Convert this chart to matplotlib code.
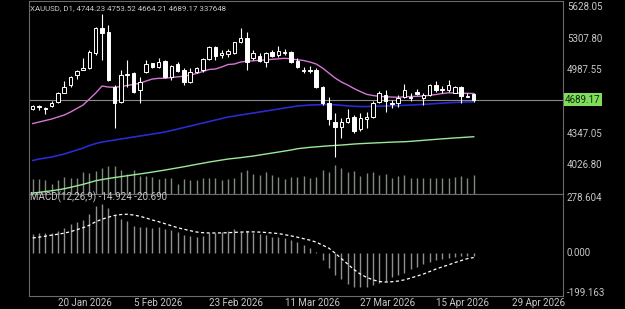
import matplotlib
matplotlib.use("Agg")
import matplotlib.pyplot as plt
import numpy as np

plt.rcParams['font.family'] = ['Roboto', 'DejaVu Sans']

# ---------------- data ----------------
opens = [4592.9, 4626.3, 4609.1, 4626.3, 4669.9, 4761.1, 4839.1, 4940.4, 4996.2, 5008.3,
         5160.4, 5413.7, 5376.2, 4815.8, 4669.9, 4940.4, 4963.8, 4788.4, 4973.9, 5059.0,
         5018.5, 5085.4, 4923.2, 5048.9, 4991.1, 4872.5, 4973.9, 4991.1, 5099.6, 5227.2,
         5143.1, 5153.3, 5166.4, 5271.8, 5312.4, 5109.7, 5136.0, 5075.2, 5176.6, 5143.1,
         5166.4, 5170.5, 5082.3, 4986.1, 4996.2, 4991.1, 4821.9, 4656.7, 4467.2, 4410.4,
         4467.2, 4511.8, 4390.2, 4491.5, 4511.8, 4669.9, 4737.8, 4659.7, 4653.7, 4714.5,
         4709.4, 4771.2, 4704.3, 4737.8, 4839.1, 4790.5, 4788.4, 4761.1, 4821.9, 4722.6,
         4744.23]
highs = [4641.5, 4641.5, 4621.2, 4677.0, 4771.2, 4879.6, 4930.3, 4991.1, 5109.7, 5193.8,
         5426.9, 5558.6, 5447.1, 4839.1, 4991.1, 5092.5, 4973.9, 4923.2, 5092.5, 5067.1,
         5109.7, 5092.5, 5041.8, 5075.2, 5008.3, 5008.3, 5024.6, 5109.7, 5234.3, 5234.3,
         5193.8, 5200.9, 5277.9, 5413.7, 5379.3, 5193.8, 5160.4, 5176.6, 5193.8, 5234.3,
         5200.9, 5186.7, 5109.7, 5024.6, 5031.7, 5008.3, 4829.0, 4720.5, 4555.4, 4504.7,
         4595.9, 4535.1, 4552.3, 4568.5, 4680.0, 4781.3, 4788.4, 4687.1, 4737.8, 4849.2,
         4761.1, 4795.5, 4755.0, 4849.2, 4882.7, 4829.0, 4889.8, 4829.0, 4829.0, 4755.0,
         4753.52]
lows = [4585.8, 4590.8, 4545.2, 4619.2, 4659.7, 4755.0, 4821.9, 4896.9, 4991.1, 4998.2,
        5143.1, 5092.5, 4879.6, 4403.3, 4659.7, 4821.9, 4761.1, 4653.7, 4957.7, 5011.4,
        5008.3, 4907.0, 4889.8, 4973.9, 4839.1, 4862.4, 4957.7, 4973.9, 5092.5, 5092.5,
        5109.7, 5125.9, 5153.3, 5261.7, 4991.1, 5092.5, 5075.2, 5018.5, 5125.9, 5125.9,
        5143.1, 5059.0, 5008.3, 4963.8, 4957.7, 4805.7, 4636.4, 4433.7, 4112.5, 4299.0,
        4451.0, 4355.7, 4376.0, 4400.3, 4501.6, 4659.7, 4568.5, 4603.0, 4613.1, 4704.3,
        4680.0, 4737.8, 4636.4, 4727.6, 4771.2, 4761.1, 4771.2, 4755.0, 4653.7, 4714.5,
        4664.21]
closes = [4626.3, 4613.1, 4595.9, 4659.7, 4761.1, 4821.9, 4923.2, 4981.0, 5008.3, 5176.6,
          5413.7, 5369.1, 4889.8, 4659.7, 4940.4, 4955.7, 4771.2, 4872.5, 5048.9, 5018.5,
          5075.2, 4923.2, 5031.7, 4981.0, 4872.5, 4973.9, 5008.3, 5099.6, 5227.2, 5133.0,
          5166.4, 5186.7, 5271.8, 5312.4, 5075.2, 5160.4, 5085.4, 5166.4, 5133.0, 5186.7,
          5176.6, 5075.2, 5018.5, 4996.2, 4986.1, 4815.8, 4653.7, 4491.5, 4410.4, 4467.2,
          4504.7, 4376.0, 4501.6, 4517.9, 4659.7, 4755.0, 4680.0, 4646.6, 4704.3, 4788.4,
          4719.5, 4747.9, 4737.8, 4839.1, 4788.4, 4800.6, 4839.1, 4821.9, 4727.6, 4732.7,
          4689.17]
volumes = [266600, 266600, 248800, 177700, 248800, 296800, 279000, 279000, 378500, 367900,
           396300, 456700, 497600, 497600, 426500, 355400, 426500, 307400, 307400, 296800,
           266600, 279000, 279000, 177700, 266600, 236400, 248800, 279000, 279000, 279000,
           248800, 266600, 279000, 378500, 414100, 355400, 337600, 378500, 337600, 296800,
           266600, 296800, 296800, 307400, 279000, 296800, 414100, 378500, 515400, 456700,
           378500, 396300, 319900, 367900, 378500, 337600, 355400, 279000, 307400, 337600,
           279000, 279000, 279000, 279000, 279000, 279000, 279000, 296800, 319900, 279000,
           337648]
ma_pink = [4449.0, 4464.2, 4479.4, 4494.6, 4514.8, 4535.1, 4565.5, 4601.0, 4636.4, 4697.2,
           4758.0, 4829.0, 4818.8, 4815.8, 4823.9, 4834.0, 4846.2, 4856.3, 4879.6, 4899.9,
           4907.0, 4907.0, 4915.1, 4922.2, 4928.3, 4940.4, 4955.7, 4975.9, 4996.2, 5001.3,
           5021.5, 5046.9, 5051.9, 5072.2, 5080.3, 5084.4, 5089.4, 5092.5, 5099.6, 5104.6,
           5109.7, 5104.6, 5094.5, 5087.4, 5072.2, 5051.9, 5011.4, 4960.7, 4910.0, 4869.5,
           4839.1, 4803.6, 4773.2, 4744.9, 4732.7, 4724.6, 4719.5, 4717.5, 4714.5, 4719.5,
           4722.6, 4724.6, 4727.6, 4734.7, 4742.8, 4753.0, 4760.1, 4758.0, 4756.0, 4755.0,
           4753.0]
ma_blue = [4074.0, 4089.2, 4099.3, 4109.5, 4124.7, 4139.9, 4160.1, 4180.4, 4200.7, 4226.0,
           4246.3, 4261.5, 4271.6, 4281.7, 4291.9, 4302.0, 4312.1, 4322.3, 4332.4, 4342.5,
           4352.7, 4362.8, 4378.0, 4393.2, 4408.4, 4423.6, 4438.8, 4454.0, 4469.2, 4484.4,
           4499.6, 4514.8, 4525.0, 4535.1, 4545.2, 4555.4, 4565.5, 4575.6, 4585.8, 4595.9,
           4606.0, 4616.2, 4626.3, 4631.4, 4636.4, 4638.5, 4640.5, 4641.5, 4638.5, 4633.4,
           4628.3, 4624.3, 4621.2, 4621.2, 4623.3, 4624.3, 4626.3, 4628.3, 4630.3, 4633.4,
           4636.4, 4639.5, 4643.5, 4646.6, 4651.6, 4655.7, 4659.7, 4662.8, 4665.8, 4667.8,
           4669.9]
ma_green = [3744.6, 3751.7, 3759.8, 3767.9, 3777.1, 3788.2, 3802.4, 3817.6, 3832.8, 3851.0,
            3869.3, 3881.4, 3891.6, 3901.7, 3910.8, 3920.0, 3929.1, 3938.2, 3947.3, 3957.5,
            3967.6, 3977.7, 3988.9, 4000.0, 4011.2, 4023.3, 4035.5, 4046.6, 4058.8, 4068.9,
            4079.1, 4089.2, 4096.3, 4103.4, 4111.5, 4119.6, 4129.7, 4139.9, 4150.0, 4160.1,
            4170.3, 4180.4, 4193.6, 4200.7, 4207.8, 4212.8, 4217.9, 4223.0, 4227.0, 4231.1,
            4236.1, 4241.2, 4245.3, 4248.3, 4251.3, 4254.4, 4257.4, 4260.5, 4262.5, 4264.5,
            4268.6, 4273.6, 4278.7, 4283.8, 4288.8, 4293.9, 4298.0, 4303.0, 4307.1, 4311.1,
            4315.2]
macd_main = [96.5, 100, 103, 103, 113, 125, 146.5, 158, 170, 196.5,
             236.5, 250, 230, 191.5, 175, 163, 136.5, 133, 133, 130,
             133, 120, 116.5, 108, 91.5, 86.5, 80, 86.5, 100, 100,
             108, 113, 120, 108, 113, 103, 95, 91.5, 83, 83,
             75, 66.5, 58, 41.5, 25, 6.5, -33.5, -75, -108.5, -130,
             -153.5, -167, -170, -170, -158.5, -147, -137, -120, -108.5, -97,
             -80, -70, -52, -42, -33, -29, -22, -16, -13, -13,
             -14.924]
macd_signal = [77.5, 81.5, 86.5, 91.5, 96.5, 101.5, 109, 119, 129, 141.5,
               159, 171.5, 181.5, 190.5, 195, 196.5, 192.5, 186.5, 177.5, 167.5,
               159, 149, 139, 129, 121.5, 114, 107.5, 104, 102.5, 102.5,
               103, 104, 105.5, 107, 108, 108, 107, 105, 102.5, 99.5,
               94, 88, 81.5, 74, 66.5, 56.5, 41.5, 26.5, 1.5, -26,
               -53.5, -81, -103.5, -120, -132.5, -141, -143.5, -142, -138.5, -132.5,
               -123.5, -113.5, -103.5, -91, -78.5, -67.5, -57.5, -46, -36, -26,
               -20.69]
date_labels = ["20 Jan 2026", "5 Feb 2026", "23 Feb 2026", "11 Mar 2026",
               "27 Mar 2026", "15 Apr 2026", "29 Apr 2026"]
date_bar_index = [4, 16, 28, 40, 52, 64, 76]
price_labels = [5628.05, 5307.80, 4987.55, 4347.05, 4026.80]
macd_labels = [278.604, 0.000, -199.163]
title = "XAUUSD, D1, 4744.23 4753.52 4664.21 4689.17 337648"
macd_title = "MACD(12,26,9) -14.924 -20.690"

# ---------------- figure ----------------
W, H = 625, 309
fig = plt.figure(figsize=(W / 100, H / 100), dpi=100, facecolor='black')

def rect(x0, y0, x1, y1):
    return [x0 / W, 1 - y1 / H, (x1 - x0) / W, (y1 - y0) / H]

main_rect = rect(28.5, 1.3, 563, 193.8)
macd_rect = rect(28.5, 193.8, 563, 296)

ax_v = fig.add_axes(main_rect)
ax = fig.add_axes(main_rect)
axm = fig.add_axes(macd_rect)

border = '#6a6a6a'
txt = '#c8c8c8'
fs = 7

n = len(closes)
x = np.arange(n)
xlim = (-0.667, 84.17)

# volume
ax_v.set_facecolor('black')
ax_v.vlines(x, 0, volumes, color='#7f8a7f', lw=1.0)
ax_v.set_xlim(*xlim)
ax_v.set_ylim(0, 3.416e6)
ax_v.axis('off')

# candles
ax.set_facecolor('none')
ax.vlines(x, lows, highs, color='white', lw=0.8, zorder=3)
o = np.array(opens); c = np.array(closes)
bottoms = np.minimum(o, c)
heights = np.maximum(np.abs(c - o), 4)
faces = ['black' if cc >= oo else 'white' for oo, cc in zip(opens, closes)]
ax.bar(x, heights, bottom=bottoms, width=0.55, color=faces, edgecolor='white',
       linewidth=0.7, zorder=4)

ax.plot(x, ma_pink, color='#d476d4', lw=1.0, zorder=2)
ax.plot(x, ma_blue, color='#2a2ad0', lw=1.2, zorder=2)
ax.plot(x, ma_green, color='#9be89b', lw=1.0, zorder=2)

last = closes[-1]
ax.axhline(last, color='#8a8a8a', lw=0.8, zorder=1)

ax.set_xlim(*xlim)
ax.set_ylim(3737, 5687.3)
ax.set_xticks([]); ax.set_yticks([])
for s in ['left', 'top', 'right', 'bottom']:
    ax.spines[s].set_color(border)
    ax.spines[s].set_linewidth(0.8)

ytr = ax.get_yaxis_transform()
for p in price_labels:
    ax.text(1.007, p, f"{p:.2f}", transform=ytr, ha='left', va='center',
            color=txt, fontsize=fs, clip_on=False)
ax.text(1.004, last, f"{last:.2f}", transform=ytr, ha='left', va='center',
        color='#0b2a0b', fontsize=fs, clip_on=False,
        bbox=dict(boxstyle='square,pad=0.15', facecolor='#80dc5a', edgecolor='none'))

fig.text(30 / W, 1 - 7.7 / H, title, color=txt, fontsize=5.7, ha='left', va='center')

# MACD
axm.set_facecolor('black')
axm.vlines(x, 0, macd_main, color='#8f8f8f', lw=1.0)
axm.plot(x, macd_signal, color='white', lw=0.9, dashes=(2.5, 2))
axm.set_xlim(*xlim)
axm.set_ylim(-213.5, 299)
axm.set_xticks([]); axm.set_yticks([])
for s in ['left', 'top', 'right', 'bottom']:
    axm.spines[s].set_color(border)
    axm.spines[s].set_linewidth(0.8)
mtr = axm.get_yaxis_transform()
for v in macd_labels:
    axm.text(1.007, v, f"{v:.3f}", transform=mtr, ha='left', va='center',
             color=txt, fontsize=fs, clip_on=False)
fig.text(30 / W, 1 - 197.5 / H, macd_title, color=txt, fontsize=fs, ha='left', va='center')

xtr = axm.get_xaxis_transform()
for xi, lab in zip(date_bar_index, date_labels):
    axm.text(xi, -0.07, lab, transform=xtr, ha='left', va='center',
             color=txt, fontsize=fs, clip_on=False)

fig.savefig('out.png', dpi=100, facecolor='black')
